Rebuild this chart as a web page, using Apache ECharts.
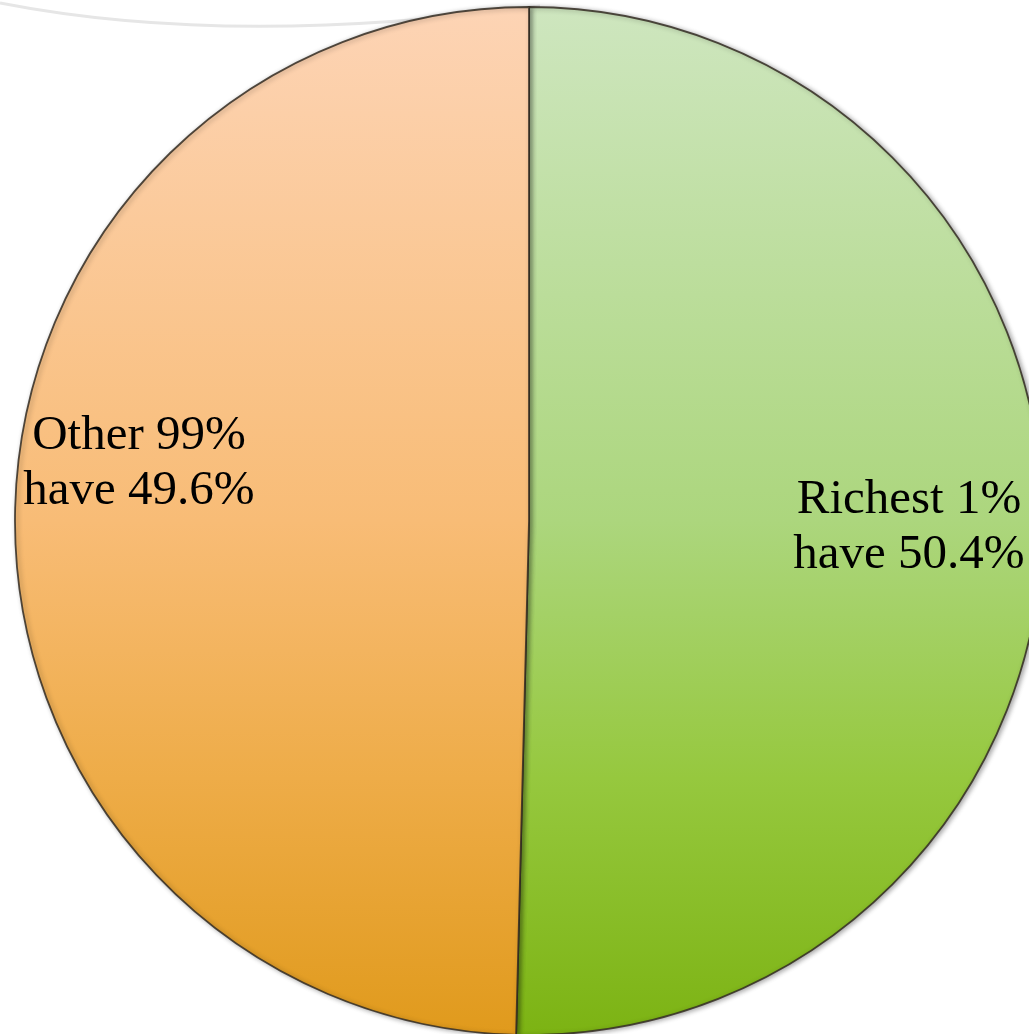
<!DOCTYPE html>
<html>
<head>
<meta charset="utf-8">
<title>Wealth share: richest 1% vs other 99%</title>
<script src="https://cdn.jsdelivr.net/npm/echarts@6/dist/echarts.min.js"></script>
<style>
  html, body { margin: 0; padding: 0; background: #ffffff; }
  #chart { width: 1029px; height: 1034px; }
</style>
</head>
<body>
<div id="chart"></div>
<script>
// Share of global wealth held by each group (percent)
const groups = ['Richest 1%', 'Other 99%'];
const shares = [50.4, 49.6];

// Vertical fill ramps for each slice, top to bottom
const rampStops = [0, 0.5, 0.75, 1];
const greenRamp = ['#cee6bf', '#acd67d', '#96c83e', '#7cb313'];
const orangeRamp = ['#fdd4b5', '#f8bc76', '#eeac48', '#e09a1c'];

// Where each two-line label sits (pixel centre)
const labelAnchors = [[909, 528], [139, 464]];

function ramp(colors) {
  return new echarts.graphic.LinearGradient(0, 0, 0, 1,
    colors.map((c, i) => ({ offset: rampStops[i], color: c })));
}
const fills = [ramp(greenRamp), ramp(orangeRamp)];

const chart = echarts.init(document.getElementById('chart'), null, { renderer: 'canvas' });

chart.setOption({
  backgroundColor: '#ffffff',
  animation: false,
  graphic: [{
    type: 'bezierCurve',
    z: -1,
    silent: true,
    shape: { x1: 0, y1: 3, x2: 540, y2: 6, cpx1: 230, cpy1: 48 },
    style: { stroke: '#e6e6e6', lineWidth: 3, fill: null }
  }],
  series: [{
    type: 'pie',
    center: [529, 521],
    radius: [0, 514],
    startAngle: 90,
    clockwise: true,
    avoidLabelOverlap: false,
    labelLine: { show: false },
    itemStyle: {
      borderColor: 'rgba(50,44,34,0.85)',
      borderWidth: 1.8,
      shadowBlur: 5,
      shadowColor: 'rgba(0,0,0,0.35)',
      shadowOffsetX: 2,
      shadowOffsetY: 1
    },
    emphasis: { disabled: true },
    label: {
      show: true,
      position: 'inside',
      formatter: p => {
        const pct = p.value.toFixed(1) + '%';
        return p.name + '\nhave ' + pct;
      },
      fontFamily: '"Liberation Serif", "DejaVu Serif", serif',
      fontSize: 49,
      lineHeight: 55,
      color: '#000000',
      align: 'center',
      verticalAlign: 'middle'
    },
    labelLayout: params => ({
      x: labelAnchors[params.dataIndex][0],
      y: labelAnchors[params.dataIndex][1],
      align: 'center',
      verticalAlign: 'middle'
    }),
    data: groups.map((g, i) => ({
      name: g,
      value: shares[i],
      itemStyle: { color: fills[i] }
    }))
  }]
});
</script>
</body>
</html>
